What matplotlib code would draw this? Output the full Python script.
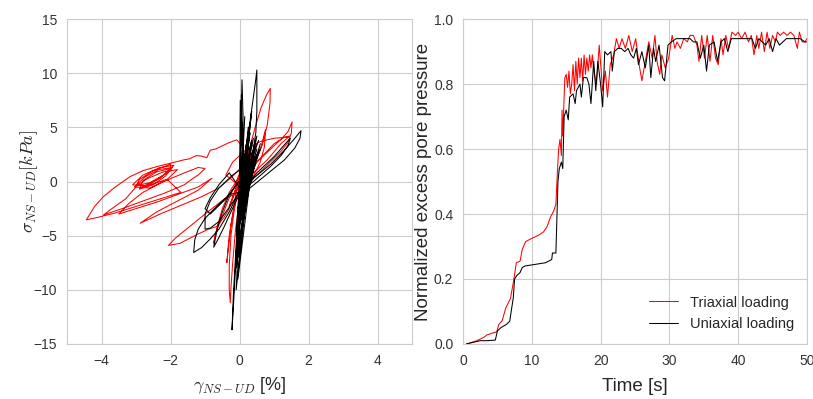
import numpy as np
import matplotlib
matplotlib.use('Agg')
import matplotlib.pyplot as plt
import seaborn as sns

# stress-strain path (gamma [%], sigma [kPa])
tri_loop = [(0, 0), (0.1, 0.8), (0.3, 2.2), (0.45, 3.2), (0.35, 2.0), (0.1, 0.3), (-0.15, -1.2), (-0.3, -2.3),
            (-0.15, -1.0), (0.05, 0.5), (0.15, 1.6), (0.3, 3.2), (0.45, 5.0), (0.62, 6.8), (0.78, 8.0),
            (0.89, 8.6), (0.88, 7.2), (0.8, 5.2), (0.65, 3.3), (0.45, 1.8), (0.2, 0.2), (0.0, -1.5),
            (-0.12, -4.5), (-0.2, -7.5), (-0.25, -9.8), (-0.27, -11.2), (-0.3, -10.0), (-0.3, -7.8),
            (-0.25, -5.0), (-0.15, -2.5), (0.0, -0.3), (0.4, 1.5), (0.9, 3.0), (1.2, 3.9), (1.4, 4.6),
            (1.52, 5.5), (1.5, 4.5), (1.4, 3.6), (1.2, 2.8), (0.7, 1.2), (0.2, -0.3), (0.45, 1.5), (0.62, 3.2),
            (0.75, 4.8), (0.72, 3.2), (0.6, 1.8), (0.4, 0.5), (0.0, -1.0), (-0.4, -1.5), (-1.0, -3.0),
            (-1.5, -4.3), (-1.85, -5.2), (-2.06, -5.9), (-1.72, -5.7), (-1.24, -4.9), (-0.9, -4.4),
            (-0.66, -4.15), (-0.45, -3.3), (-0.3, -2.5), (-0.15, -1.0), (-0.05, 0.0), (0.05, 1.2), (0.1, 2.2),
            (0.1, 3.2), (-0.08, 3.85), (-0.3, 3.6), (-0.5, 3.3), (-0.7, 3.0), (-0.85, 2.9), (-0.95, 2.2),
            (-1.1, 2.35), (-1.25, 2.4), (-1.45, 2.1), (-1.62, 2.0), (-2.0, 1.7), (-2.4, 1.38), (-2.8, 1.0),
            (-3.17, 0.46), (-3.6, -0.5), (-3.94, -1.38), (-4.2, -2.3), (-4.44, -3.54), (-4.1, -3.3),
            (-3.6, -2.9), (-3.1, -2.4), (-2.6, -1.9), (-2.2, -1.5), (-1.7, -1.0), (-2.1, 0.2), (-2.6, -0.3),
            (-2.9, -0.6), (-2.5, 0.0), (-2.0, 1.0), (-2.0, 1.6), (-2.5, 1.0), (-2.9, 0.2), (-3.0, -0.4),
            (-2.6, -0.1), (-2.2, 0.6), (-1.9, 1.5), (-2.3, 1.3), (-2.8, 0.6), (-3.1, -0.3), (-2.7, -0.4),
            (-2.3, 0.3), (-2.0, 1.2), (-2.4, 0.9), (-2.8, 0.1), (-2.9, -0.7), (-2.5, -0.3), (-2.15, 0.5),
            (-1.95, 1.3), (-2.35, 1.1), (-2.75, 0.4), (-3.05, -0.5), (-2.6, -0.6), (-2.1, 0.2), (-1.8, 1.1),
            (-2.2, 0.9), (-2.65, 0.3), (-2.95, -0.3), (-3.3, -1.6), (-3.7, -2.5), (-3.94, -3.08), (-3.4, -2.5),
            (-2.8, -1.8), (-2.2, -1.1), (-1.6, -0.3), (-1.35, 0.3), (-1.2, 0.6), (-1.0, 1.2), (-1.2, 1.3),
            (-1.6, 0.8), (-2.2, 0.0), (-2.8, -1.0), (-3.2, -2.0), (-3.5, -3.0), (-3.0, -2.5), (-2.4, -1.9),
            (-1.8, -1.2), (-1.2, -0.5), (-0.8, 0.3), (-1.2, -0.8), (-1.8, -1.8), (-2.4, -2.8), (-2.88, -3.85),
            (-2.3, -3.0), (-1.7, -2.2), (-1.1, -1.4), (-0.6, -0.6), (-0.2, 0.5), (0.1, 1.5), (-0.1, 0.0),
            (-0.3, -1.0), (-0.5, -2.5), (-0.65, -4.2), (-0.75, -5.7), (-0.7, -4.8), (-0.6, -4.0), (-0.3, -1.5),
            (0.0, 0.5), (0.3, 2.5), (0.2, 1.0), (-0.1, -1.5), (-0.25, -4.0), (-0.37, -7.5), (-0.33, -6.0),
            (-0.3, -5.0), (-0.1, -1.0), (0.2, 1.5), (0.5, 3.5), (0.3, 1.5), (0.1, -0.5), (0.5, 1.8), (1.0, 3.5),
            (1.3, 4.1), (1.45, 4.2), (1.2, 3.5), (0.8, 2.0), (0.3, 0.5), (0.0, -0.4), (-0.4, 0.6), (-0.2, 1.8),
            (0.2, 3.0), (0.6, 3.7), (1.0, 4.0), (1.4, 4.1)]

uni_loop = [(0, 0), (0.03, 3.0), (0.05, 6.5), (0.07, 9.4), (0.1, 6.0), (0.08, 2.0), (0.0, -1.5), (-0.05, -5.0),
            (-0.1, -8.0), (-0.08, -4.0), (0.0, 0.0), (0.1, 1.5), (0.2, 3.5), (0.3, 5.5), (0.4, 7.8),
            (0.46, 9.2), (0.5, 10.3), (0.5, 8.5), (0.5, 6.5), (0.47, 4.5), (0.35, 2.0), (0.1, 0.0), (-0.05, -3.0),
            (-0.12, -7.0), (-0.18, -10.5), (-0.22, -13.7), (-0.17, -11.0), (-0.12, -8.0), (-0.06, -4.5),
            (0.0, -1.5), (0.4, 0.3), (0.9, 1.6), (1.3, 2.9), (1.6, 4.0), (1.78, 4.7), (1.75, 4.0), (1.6, 3.1),
            (1.3, 2.0), (0.8, 0.7), (0.3, -0.6), (0.0, -1.2), (0.5, 0.8), (1.0, 2.3), (1.3, 3.4), (1.47, 4.0),
            (1.4, 3.3), (1.2, 2.4), (0.9, 1.4), (0.4, 0.0), (0.0, -1.0), (-0.3, -1.2), (-0.7, -2.4), (-1.0, -3.4),
            (-1.2, -4.4), (-1.3, -5.4), (-1.33, -6.55), (-1.1, -6.1), (-0.85, -5.3), (-0.6, -4.4), (-0.3, -2.8),
            (0.0, -0.8), (0.3, 1.2), (0.2, 1.5), (-0.2, 0.6), (-0.6, -0.6), (-0.85, -1.8), (-1.0, -3.0),
            (-1.0, -4.4), (-0.85, -4.3), (-0.6, -3.7), (-0.35, -2.6), (0.0, -1.0), (0.3, 0.8), (0.1, 0.5),
            (-0.3, -1.2), (-0.5, -2.8), (-0.65, -4.4), (-0.75, -6.06), (-0.62, -5.3), (-0.45, -4.2),
            (-0.25, -2.8), (0.05, -0.8), (-0.3, 0.8), (-0.6, -0.3), (-0.85, -1.5), (-1.0, -2.5), (-0.85, -3.0),
            (-0.4, -1.6), (0.1, 0.5), (0.2, 3.5), (0.0, -2.0), (0.4, 4.0), (0.1, -1.0), (0.5, 3.0), (0.0, -3.0),
            (0.3, 4.5), (-0.1, -5.0), (0.6, 3.5), (0.1, -2.0), (0.05, 8.0), (0.0, -6.0), (0.4, 2.5),
            (-0.05, -9.0), (0.2, 2.0), (0.35, 6.5), (0.1, -0.5), (0.55, 2.8), (0.0, -4.0), (0.25, 3.2),
            (0.45, 1.8), (0.05, -1.5), (0.6, 3.0), (0.15, 0.5), (0.02, 7.5), (-0.02, -7.0), (0.3, 2.8),
            (0.1, -0.5), (0.35, 3.8), (-0.05, -2.5), (0.5, 4.2), (0.05, -3.5), (0.25, 5.0), (-0.08, -6.5),
            (0.45, 2.2), (0.0, -1.0), (0.15, 6.0), (-0.1, -10.0), (0.3, 1.5), (0.55, 3.8), (0.1, 0.2)]

# pore pressure history (time [s], normalized excess pore pressure)
tri_pp = [(0.5, 0.0), (1.0, 0.003), (2.0, 0.01), (3.0, 0.02), (3.5, 0.028), (4.5, 0.035), (4.9, 0.037),
          (5.2, 0.06), (5.7, 0.072), (6.2, 0.11), (6.9, 0.14), (7.4, 0.2), (7.75, 0.25), (8.3, 0.255),
          (8.6, 0.29), (9.1, 0.315), (10.0, 0.325), (11.0, 0.335), (11.7, 0.345), (12.2, 0.36), (12.7, 0.39),
          (13.2, 0.41), (13.5, 0.43), (13.7, 0.52), (13.9, 0.6), (14.1, 0.63), (14.3, 0.58), (14.4, 0.72),
          (14.5, 0.64), (14.6, 0.70), (14.8, 0.82), (15.0, 0.83), (15.2, 0.79), (15.4, 0.84), (15.6, 0.77),
          (15.8, 0.80), (16.0, 0.86), (16.2, 0.78), (16.4, 0.87), (16.6, 0.80), (16.8, 0.88), (17.0, 0.82),
          (17.2, 0.88), (17.4, 0.81), (17.6, 0.89), (17.8, 0.83), (18.0, 0.88), (18.2, 0.84), (18.4, 0.89),
          (18.6, 0.85), (18.8, 0.89), (19.0, 0.84), (19.4, 0.80), (19.8, 0.92), (20.3, 0.78), (20.7, 0.84),
          (21.0, 0.76), (21.4, 0.86), (21.9, 0.89), (22.3, 0.94), (22.7, 0.91), (23.1, 0.94), (23.6, 0.91),
          (24.1, 0.95), (24.6, 0.90), (25.1, 0.94), (25.6, 0.86), (26.0, 0.81), (26.5, 0.87), (27.0, 0.93),
          (27.5, 0.88), (27.9, 0.95), (28.2, 0.87), (28.6, 0.83), (28.9, 0.89), (29.4, 0.85), (29.9, 0.88),
          (30.4, 0.95), (30.8, 0.91), (31.1, 0.93), (31.6, 0.91), (32.1, 0.94), (32.6, 0.93), (33.0, 0.95),
          (33.5, 0.95), (34.0, 0.92), (34.3, 0.87), (34.7, 0.95), (35.1, 0.88), (35.5, 0.95), (35.9, 0.87),
          (36.3, 0.95), (36.7, 0.88), (37.1, 0.86), (37.5, 0.94), (37.8, 0.89), (38.2, 0.95), (38.6, 0.91),
          (39.1, 0.96), (39.6, 0.95), (40.0, 0.96), (40.5, 0.94), (41.0, 0.96), (41.5, 0.93), (41.9, 0.95),
          (42.3, 0.89), (42.7, 0.95), (43.0, 0.91), (43.4, 0.96), (43.8, 0.90), (44.2, 0.96), (44.6, 0.91),
          (45.0, 0.95), (45.4, 0.93), (45.7, 0.96), (46.1, 0.95), (46.6, 0.96), (47.1, 0.95), (47.6, 0.96),
          (48.1, 0.95), (48.6, 0.91), (48.9, 0.96), (49.3, 0.93), (49.7, 0.93), (50.0, 0.94)]

uni_pp = [(0.5, 0.0), (1.5, 0.005), (2.5, 0.01), (3.5, 0.01), (4.7, 0.012), (5.0, 0.04), (5.5, 0.05),
          (6.3, 0.06), (6.8, 0.07), (7.0, 0.1), (7.3, 0.14), (7.5, 0.2), (7.8, 0.21), (8.3, 0.22), (8.6, 0.235),
          (9.0, 0.24), (10.5, 0.245), (12.0, 0.25), (12.9, 0.26), (13.0, 0.28), (13.5, 0.28), (13.6, 0.35),
          (13.8, 0.5), (14.0, 0.54), (14.3, 0.56), (14.5, 0.54), (14.7, 0.70), (15.0, 0.72), (15.3, 0.69),
          (15.5, 0.76), (16.0, 0.77), (16.3, 0.74), (16.5, 0.78), (17.0, 0.80), (17.2, 0.76), (17.5, 0.82),
          (18.0, 0.82), (18.3, 0.80), (18.6, 0.74), (19.0, 0.87), (19.3, 0.78), (19.6, 0.87), (20.0, 0.80),
          (20.3, 0.73), (20.6, 0.90), (21.0, 0.89), (21.5, 0.90), (21.7, 0.84), (22.0, 0.90), (22.5, 0.91),
          (23.0, 0.91), (23.5, 0.90), (24.0, 0.91), (24.4, 0.89), (24.8, 0.88), (25.2, 0.91), (25.5, 0.86),
          (26.0, 0.90), (26.5, 0.85), (27.0, 0.92), (27.3, 0.82), (27.7, 0.91), (28.0, 0.87), (28.5, 0.92),
          (29.0, 0.82), (29.3, 0.81), (29.8, 0.92), (30.3, 0.93), (31.0, 0.94), (32.0, 0.94), (33.0, 0.94),
          (33.5, 0.93), (34.0, 0.93), (34.5, 0.88), (35.0, 0.92), (35.4, 0.84), (35.8, 0.92), (36.5, 0.93),
          (37.0, 0.87), (37.5, 0.93), (38.0, 0.94), (38.5, 0.90), (39.0, 0.94), (40.0, 0.94), (41.0, 0.94),
          (42.0, 0.94), (42.5, 0.91), (43.0, 0.94), (44.0, 0.92), (44.5, 0.94), (45.0, 0.90), (45.5, 0.94),
          (46.0, 0.92), (47.0, 0.94), (48.0, 0.94), (49.0, 0.94), (49.7, 0.93), (50.0, 0.93)]

sns.set_style('whitegrid')
plt.rcParams['font.family'] = ['Liberation Sans', 'DejaVu Sans']
plt.rcParams['mathtext.fontset'] = 'cm'

fig = plt.figure(figsize=(8.13, 3.99), dpi=100)
ax1 = fig.add_axes([0.0824, 0.138, 0.4246, 0.814])
ax2 = fig.add_axes([0.5695, 0.138, 0.4231, 0.814])

# left: hysteresis
gx, gy = zip(*tri_loop)
ax1.plot(gx, gy, color='red', lw=0.75)
gx, gy = zip(*uni_loop)
ax1.plot(gx, gy, color='black', lw=0.75)
ax1.set_xlim(-5, 5)
ax1.set_ylim(-15, 15)
ax1.set_xticks([-4, -2, 0, 2, 4])
ax1.set_yticks([-15, -10, -5, 0, 5, 10, 15])
ax1.set_xlabel(r'$\gamma_{NS-UD}$ [%]', fontsize=13)
ax1.set_ylabel(r'$\sigma_{NS-UD} [kPa]$', fontsize=13)
ax1.xaxis.set_label_coords(0.5, -0.095)
ax1.yaxis.set_label_coords(-0.078, 0.5)

# right: pore pressure
t, p = zip(*tri_pp)
ax2.plot(t, p, color='red', lw=0.75, label='Triaxial loading')
t, p = zip(*uni_pp)
ax2.plot(t, p, color='black', lw=0.75, label='Uniaxial loading')
ax2.set_xlim(0, 50)
ax2.set_ylim(0, 1)
ax2.set_xlabel('Time [s]', fontsize=13.5)
ax2.set_ylabel('Normalized excess pore pressure', fontsize=13.5)
ax2.xaxis.set_label_coords(0.5, -0.105)
ax2.yaxis.set_label_coords(-0.09, 0.5)
ax2.legend(loc='lower right', frameon=False, fontsize=10.5)

for ax in (ax1, ax2):
    ax.tick_params(labelsize=10, colors='#333333')

fig.savefig('out.png', dpi=100)
